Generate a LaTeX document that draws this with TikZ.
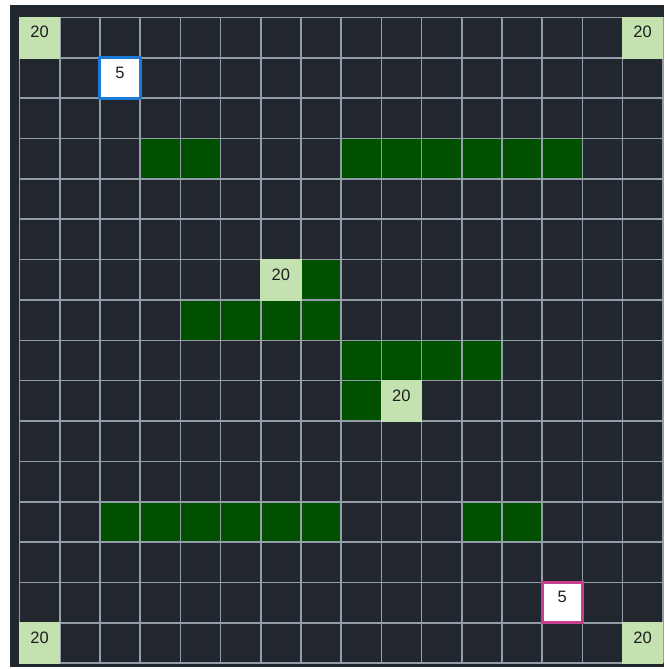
\documentclass[tikz,border=0pt]{standalone}
\usepackage{fontspec}
\setmainfont{Liberation Sans}
\definecolor{board}{HTML}{22262F}
\definecolor{gridgray}{HTML}{939DA8}
\definecolor{wall}{HTML}{005000}
\definecolor{reward}{HTML}{C4E1B0}
\definecolor{startblue}{HTML}{1C7BD8}
\definecolor{goalpink}{HTML}{C8408C}
\definecolor{digit}{HTML}{1E1E1E}
\tikzset{
  cell/.style = {
    minimum width=41.6pt, minimum height=41.75pt, inner sep=0pt,
    font=\fontsize{16.5}{16.5}\selectfont, text=digit,
    text height=12pt, text depth=11.5pt
  },
  reward cell/.style = {cell, fill=reward},
  start cell/.style  = {cell, fill=white, draw=startblue, line width=3pt,
                        minimum width=40.2pt, minimum height=40.35pt},
  goal cell/.style   = {start cell, draw=goalpink},
  grid line/.style   = {gridgray, line width=1.6pt}
}

\begin{document}
\begin{tikzpicture}[x=1pt,y={(0pt,-1pt)}]
  \pgfmathsetmacro{\CellW}{40.2};
  \pgfmathsetmacro{\CellH}{40.35};
  \pgfmathsetmacro{\OffX}{19.5};
  \pgfmathsetmacro{\OffY}{17.5};
  %
  \useasboundingbox (0,0) rectangle (664,669);
  \fill[board] (10,5) rectangle (664,667);
  % walls
  \foreach \c/\r in {3/3,4/3,8/3,9/3,10/3,11/3,12/3,13/3,
                     7/6,4/7,5/7,6/7,7/7,8/8,9/8,10/8,11/8,8/9,
                     2/12,3/12,4/12,5/12,6/12,7/12,11/12,12/12}
    \fill[wall] ({\OffX+\c*\CellW},{\OffY+\r*\CellH}) rectangle ++(\CellW,\CellH);
  % grid
  \foreach \i in {0,...,16} {
    \draw[grid line] ({\OffX+\i*\CellW},\OffY) -- ++(0,{16*\CellH});
    \draw[grid line] (\OffX,{\OffY+\i*\CellH}) -- ++({16*\CellW},0);
  }
  % rewards
  \foreach \c/\r/\name in {0/0/rewardNW,15/0/rewardNE,6/6/rewardA,
                           9/9/rewardB,0/15/rewardSW,15/15/rewardSE}
    \node[reward cell] (\name) at ({\OffX+(\c+0.5)*\CellW},{\OffY+(\r+0.5)*\CellH}) {20};
  % start and goal
  \node[start cell] (start) at ({\OffX+2.5*\CellW},{\OffY+1.5*\CellH}) {5};
  \node[goal cell] (goal) at ({\OffX+13.5*\CellW},{\OffY+14.5*\CellH}) {5};
\end{tikzpicture}
\end{document}
